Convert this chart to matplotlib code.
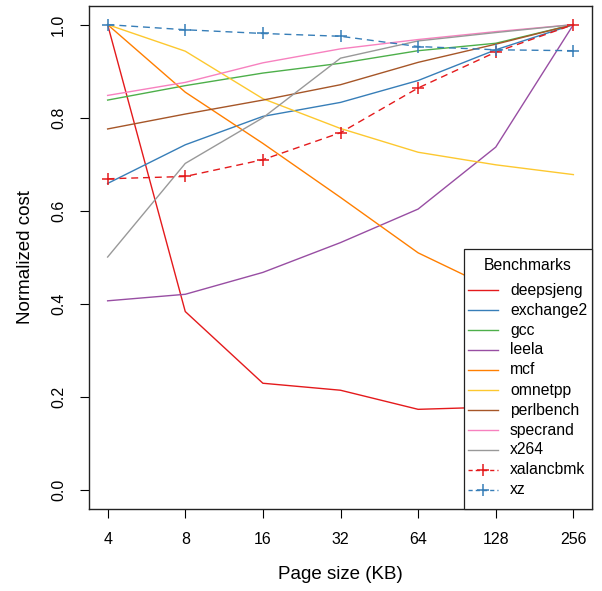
import matplotlib
matplotlib.use("Agg")
import matplotlib.pyplot as plt
from matplotlib.lines import Line2D
from matplotlib.patches import Rectangle

plt.rcParams['font.family'] = ['Liberation Sans', 'DejaVu Sans']

page_sizes = ["4", "8", "16", "32", "64", "128", "256"]

deepsjeng = [1.0, 0.384, 0.230, 0.215, 0.174, 0.179, 0.18]
exchange2 = [0.659, 0.742, 0.803, 0.833, 0.880, 0.946, 1.0]
gcc = [0.838, 0.869, 0.896, 0.917, 0.944, 0.960, 1.0]
leela = [0.407, 0.421, 0.468, 0.532, 0.604, 0.737, 1.0]
mcf = [1.0, 0.855, 0.745, 0.629, 0.510, 0.430, 0.40]
omnetpp = [1.0, 0.943, 0.841, 0.777, 0.726, 0.699, 0.678]
perlbench = [0.776, 0.808, 0.838, 0.871, 0.919, 0.958, 1.0]
specrand = [0.848, 0.876, 0.918, 0.948, 0.968, 0.985, 1.0]
x264 = [0.501, 0.702, 0.800, 0.928, 0.965, 0.983, 1.0]
xalancbmk = [0.669, 0.674, 0.710, 0.768, 0.864, 0.941, 1.0]
xz = [1.0, 0.989, 0.981, 0.975, 0.953, 0.946, 0.944]

series = [
    ("deepsjeng", deepsjeng, "#E41A1C", False),
    ("exchange2", exchange2, "#377EB8", False),
    ("gcc", gcc, "#4DAF4A", False),
    ("leela", leela, "#984EA3", False),
    ("mcf", mcf, "#FF7F00", False),
    ("omnetpp", omnetpp, "#FDC82F", False),
    ("perlbench", perlbench, "#A65628", False),
    ("specrand", specrand, "#F781BF", False),
    ("x264", x264, "#999999", False),
    ("xalancbmk", xalancbmk, "#E41A1C", True),
    ("xz", xz, "#377EB8", True),
]

W, H = 602, 591
fig = plt.figure(figsize=(W / 100, H / 100), dpi=100)
left, right, top, bottom = 89, 592, 6, 509
ax = fig.add_axes([left / W, 1 - bottom / H, (right - left) / W, (bottom - top) / H])

xs = list(range(1, len(page_sizes) + 1))
for name, vals, col, dashed in series:
    if dashed:
        ax.plot(xs, vals, color=col, lw=1.0, linestyle=(0, (5, 3.5)),
                marker='+', markersize=9, markeredgewidth=1.1)
    else:
        ax.plot(xs, vals, color=col, lw=1.0)

ax.set_xlim(0.76, 7.24)
ax.set_ylim(-0.04, 1.04)
ax.set_xticks(xs)
ax.set_xticklabels(page_sizes, fontsize=11.5)
ax.set_yticks([0.0, 0.2, 0.4, 0.6, 0.8, 1.0])
ax.set_yticklabels(["0.0", "0.2", "0.4", "0.6", "0.8", "1.0"], fontsize=11.5,
                   rotation=90, va='center')
ax.tick_params(direction='out', length=6.5, width=0.8, pad=10)
for s in ax.spines.values():
    s.set_linewidth(1.0)
    s.set_color('#222222')

ax.set_xlabel("Page size (KB)", fontsize=13.5, labelpad=14)
ax.set_ylabel("Normalized cost", fontsize=13.5, labelpad=12)

# Legend (drawn in figure pixel layout)
def fx(x):
    return x / W

def fy(y):
    return 1 - y / H

lx0, lx1, ly0, ly1 = 464, 592, 249, 509
fig.add_artist(Rectangle((fx(lx0), fy(ly1)), fx(lx1) - fx(lx0), fy(ly0) - fy(ly1),
                         transform=fig.transFigure, facecolor='white',
                         edgecolor='#222222', linewidth=0.9, zorder=5))
fig.text(fx((lx0 + lx1) / 2), fy(265), "Benchmarks", fontsize=11.3,
         ha='center', va='center', zorder=6)
for i, (name, vals, col, dashed) in enumerate(series):
    yy = 290 + 20 * i
    if dashed:
        fig.add_artist(Line2D([fx(468), fx(498)], [fy(yy), fy(yy)], color=col, lw=1.0,
                              linestyle=(0, (3, 2.2)), transform=fig.transFigure, zorder=6))
        fig.add_artist(Line2D([fx(483)], [fy(yy)], color=col, marker='+', markersize=9,
                              markeredgewidth=1.1, linestyle='none',
                              transform=fig.transFigure, zorder=6))
    else:
        fig.add_artist(Line2D([fx(468), fx(498)], [fy(yy), fy(yy)], color=col, lw=1.0,
                              transform=fig.transFigure, zorder=6))
    fig.text(fx(510), fy(yy), name, fontsize=11.3, ha='left', va='center', zorder=6)

fig.savefig("out.png", dpi=100)
